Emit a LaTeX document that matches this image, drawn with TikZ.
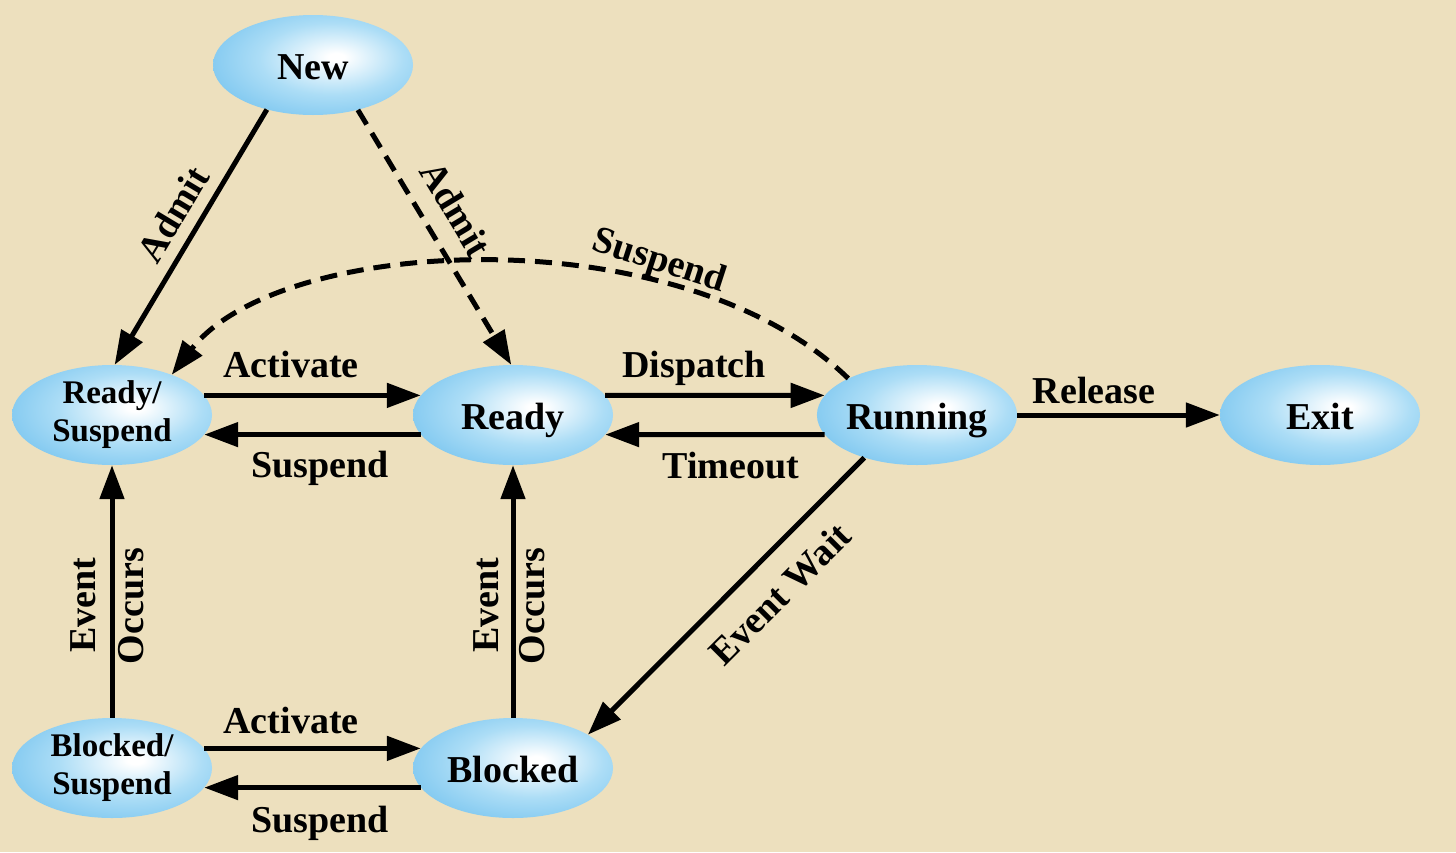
\documentclass[tikz,border=0pt]{standalone}
\usepackage{fontspec}
\setmainfont{Liberation Serif}
\usetikzlibrary{shapes.geometric,arrows.meta}
\definecolor{bgbeige}{RGB}{237,224,190}
\definecolor{ellblue}{RGB}{98,186,236}
\definecolor{ellmid}{RGB}{172,221,246}
\pgfdeclareradialshading{ballshade}{\pgfpoint{6bp}{4bp}}{color(0bp)=(white); color(2bp)=(white); color(18bp)=(ellmid); color(40bp)=(ellblue); color(80bp)=(ellblue)}
\begin{document}
\begin{tikzpicture}[x=1pt,y=-1pt,
  state/.style={ellipse, minimum width=200pt, minimum height=100pt, inner sep=0pt, shading=ballshade, draw=none, font=\bfseries\fontsize{38}{40}\selectfont},
  oneline/.style={text height=28pt, text depth=0pt},
  twoline/.style={align=center, font=\bfseries\fontsize{33}{38}\selectfont},
  lbl/.style={font=\bfseries\fontsize{38}{40}\selectfont, inner sep=0pt},
  conn/.style={line width=5pt, -{Triangle[length=34pt,width=24pt]}},
  dconn/.style={conn, dash pattern=on 17pt off 10pt}]
\useasboundingbox (0,0) rectangle (1456,852);
\fill[bgbeige] (0,0) rectangle (1456,852);

\node[state,oneline] (new) at (313,65) {New};
\node[state,twoline] (rs) at (112,415) {Ready/\\Suspend};
\node[state,oneline] (ready) at (513,415) {Ready};
\node[state,oneline] (run) at (917,415) {Running};
\node[state,oneline] (exit) at (1320,415) {Exit};
\node[state,twoline] (bs) at (112,768) {Blocked/\\Suspend};
\node[state,oneline] (blk) at (513,768) {Blocked};

\draw[conn] (new.224) -- (rs.87);
\draw[dconn] (new.315) -- (ready.92);
\draw[dconn] (run.152) .. controls (680,215) and (280,235) .. (rs.34);
\draw[conn] (rs.12) -- (ready.168);
\draw[conn] (ready.192) -- (rs.-12);
\draw[conn] (ready.12) -- (run.168);
\draw[conn] (run.192) -- (ready.-12);
\draw[conn] (run.east) -- (exit.west);
\draw[conn] (run.219) -- (blk.24);
\draw[conn] (bs.north) -- (rs.south);
\draw[conn] (blk.north) -- (ready.south);
\draw[conn] (bs.12) -- (blk.168);
\draw[conn] (blk.192) -- (bs.-12);

\node[lbl, anchor=base] (l1) at (291,377) {Activate};
\node[lbl, anchor=base] (l2) at (320,477) {Suspend};
\node[lbl, anchor=base] (l3) at (694,377) {Dispatch};
\node[lbl, anchor=base] (l4) at (731,478) {Timeout};
\node[lbl, anchor=base] (l5) at (1094,403) {Release};
\node[lbl, anchor=base] (l6) at (291,733) {Activate};
\node[lbl, anchor=base] (l7) at (320,832) {Suspend};
\node[lbl, rotate=59] (l8) at (173,214) {Admit};
\node[lbl, rotate=-59] (l9) at (456,209) {Admit};
\node[lbl, rotate=-18] (l10) at (659,262) {Suspend};
\node[lbl, rotate=45] (l11) at (780,594) {Event Wait};
\node[lbl, rotate=90] (l12) at (83,605) {Event};
\node[lbl, rotate=90] (l13) at (131,606) {Occurs};
\node[lbl, rotate=90] (l14) at (486,605) {Event};
\node[lbl, rotate=90] (l15) at (532,606) {Occurs};
\end{tikzpicture}
\end{document}
